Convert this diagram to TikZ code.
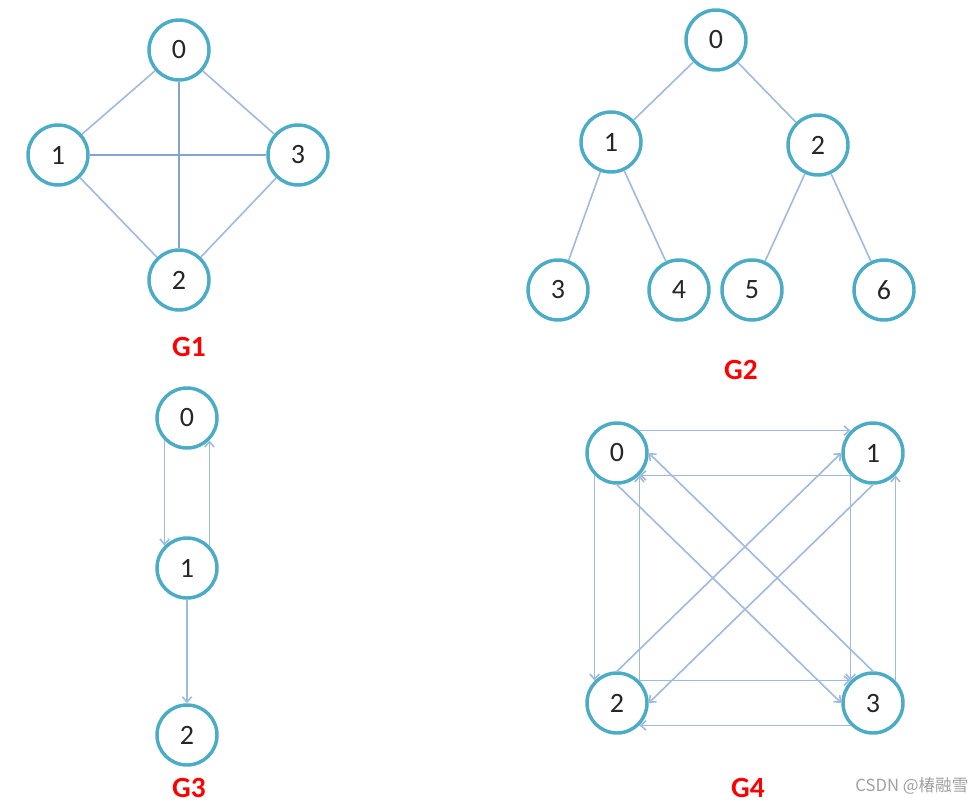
\documentclass[tikz,border=0pt]{standalone}
\usepackage{fontspec}
\setmainfont{Carlito}
\newfontfamily\cjk{Noto Sans CJK SC}
\usetikzlibrary{arrows.meta}
\definecolor{ringc}{RGB}{75,172,198}
\definecolor{edgec}{RGB}{160,186,222}
\definecolor{edged}{RGB}{130,164,212}
\definecolor{numc}{RGB}{38,38,38}
\definecolor{markc}{RGB}{160,160,160}

\begin{document}
\begin{tikzpicture}[
    x=0.75pt, y=-0.75pt,
    >={Straight Barb[length=4pt,width=7pt]},
    vtx/.style={draw=ringc, fill=white, line width=2.6pt, circle, minimum size=45pt, inner sep=0pt,
      text=numc, font=\fontsize{21}{24}\selectfont},
    edge/.style={draw=edgec, line width=1.2pt},
    edgedark/.style={draw=edged, line width=1.2pt},
    arc/.style={edge, ->},
    glabel/.style={text=red, inner sep=1pt, font=\fontsize{22}{26}\selectfont\bfseries},
  ]
  \useasboundingbox (0,0) rectangle (978,804);

  % G1: undirected, complete on four vertices
  \node[vtx] (a0) at (179,50)  {0};
  \node[vtx] (a1) at (58,155)  {1};
  \node[vtx] (a3) at (298,155) {3};
  \node[vtx] (a2) at (179,280) {2};
  \node[glabel] (g1) at (189,347) {G1};
  \draw[edge] (a0) -- (a1);
  \draw[edge] (a0) -- (a3);
  \draw[edge] (a1) -- (a2);
  \draw[edge] (a3) -- (a2);
  \draw[edgedark] (a0) -- (a2);
  \draw[edgedark] (a1) -- (a3);

  % G2: binary tree
  \node[vtx] (b0) at (716,40)  {0};
  \node[vtx] (b1) at (611,142) {1};
  \node[vtx] (b2) at (818,145) {2};
  \node[vtx] (b3) at (558,290) {3};
  \node[vtx] (b4) at (679,290) {4};
  \node[vtx] (b5) at (752,290) {5};
  \node[vtx] (b6) at (884,290) {6};
  \node[glabel] (g2) at (741,370) {G2};
  \draw[edge] (b0) -- (b1);
  \draw[edge] (b0) -- (b2);
  \draw[edge] (b1) -- (b3);
  \draw[edge] (b1) -- (b4);
  \draw[edge] (b2) -- (b5);
  \draw[edge] (b2) -- (b6);

  % G3: directed chain
  \node[vtx] (c0) at (187,418) {0};
  \node[vtx] (c1) at (187,568) {1};
  \node[vtx] (c2) at (187,735) {2};
  \node[glabel] (g3) at (189,788) {G3};
  \draw[arc] (c0.-135) -- (c1.135);
  \draw[arc] (c1.45) -- (c0.-45);
  \draw[arc] (c1) -- (c2);

  % G4: complete digraph
  \node[vtx] (d0) at (617,453) {0};
  \node[vtx] (d1) at (873,453) {1};
  \node[vtx] (d2) at (617,703) {2};
  \node[vtx] (d3) at (873,703) {3};
  \node[glabel] (g4) at (748,788) {G4};
  \draw[arc] (d0.45) -- (d1.135);
  \draw[arc] (d1.-135) -- (d0.-45);
  \draw[arc] (d0.-135) -- (d2.135);
  \draw[arc] (d2.45) -- (d0.-45);
  \draw[arc] (d1.-135) -- (d3.135);
  \draw[arc] (d3.45) -- (d1.-45);
  \draw[arc] (d2.45) -- (d3.135);
  \draw[arc] (d3.-135) -- (d2.-45);
  \draw[arc] (d0.south) -- (d3.west);
  \draw[arc] (d3.north) -- (d0.east);
  \draw[arc] (d2.north) -- (d1.west);
  \draw[arc] (d1.south) -- (d2.east);

  \node[text=markc, font=\cjk\fontsize{12.5}{14}\selectfont] (mark) at (912,786) {CSDN @椿融雪};
\end{tikzpicture}
\end{document}
